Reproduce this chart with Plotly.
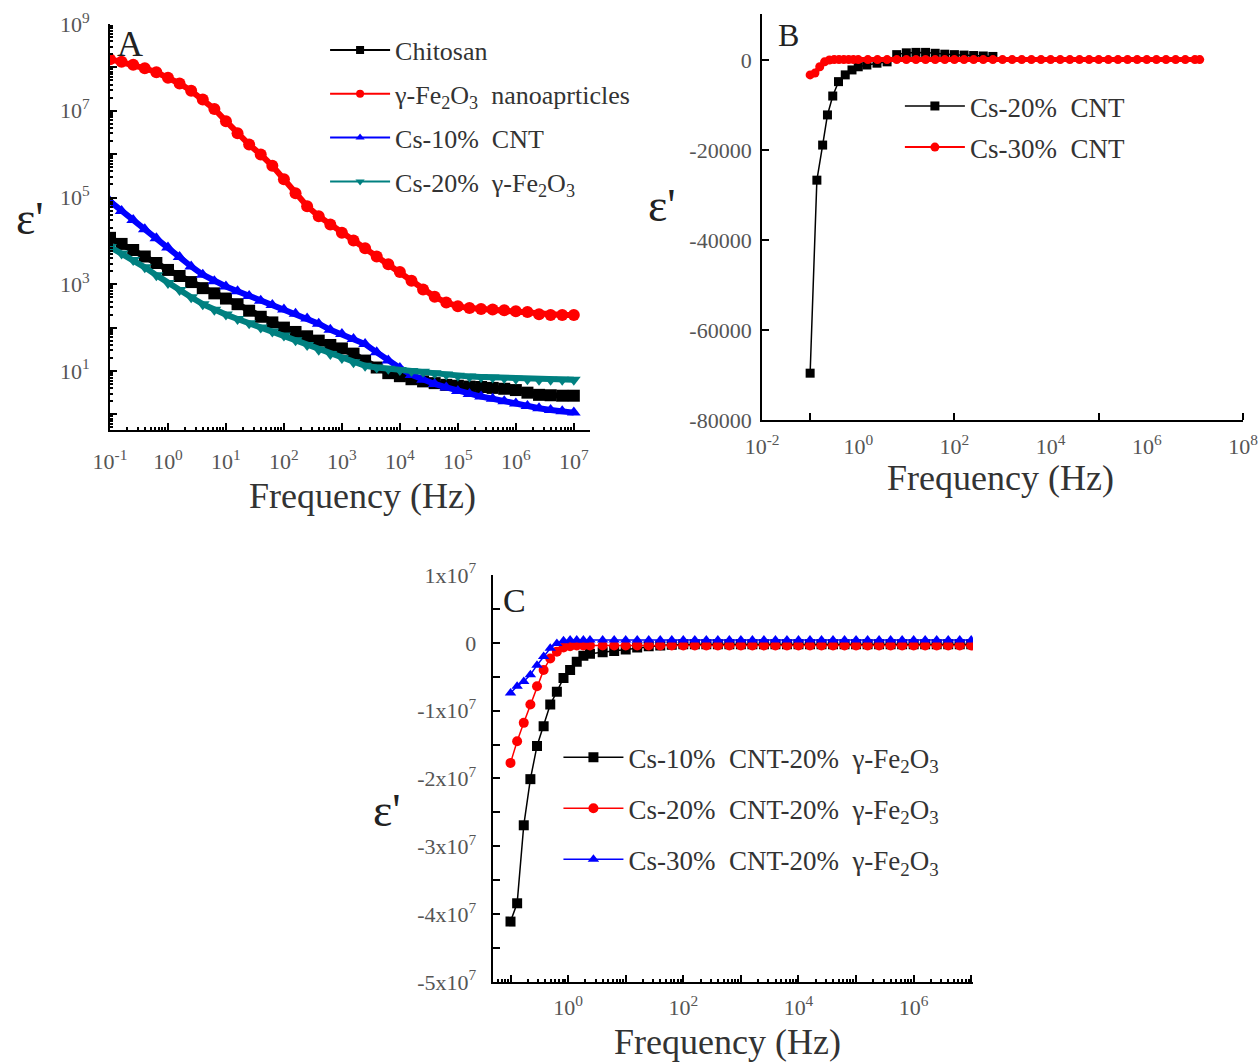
import plotly.graph_objects as go

FONT = "Liberation Serif"

# ---------------- Panel A (log-log) ----------------
LOGF_A = [-1.0, -0.8, -0.6, -0.4, -0.2, 0.0, 0.2, 0.4, 0.6, 0.8, 1.0, 1.2, 1.4, 1.6,
          1.8, 2.0, 2.2, 2.4, 2.6, 2.8, 3.0, 3.2, 3.4, 3.6, 3.8, 4.0, 4.2, 4.4, 4.6,
          4.8, 5.0, 5.2, 5.4, 5.6, 5.8, 6.0, 6.2, 6.4, 6.6, 6.8, 7.0]
# log10(eps')
A_CHITOSAN = [4.07, 3.93, 3.79, 3.64, 3.49, 3.33, 3.19, 3.05, 2.91, 2.79, 2.67, 2.54, 2.39,
              2.25, 2.12, 2.00, 1.90, 1.80, 1.70, 1.60, 1.52, 1.40, 1.24, 1.08, 0.95, 0.88,
              0.81, 0.76, 0.72, 0.68, 0.66, 0.64, 0.63, 0.61, 0.59, 0.56, 0.50, 0.45, 0.44,
              0.43, 0.43]
A_FE2O3 = [8.19, 8.13, 8.06, 7.98, 7.89, 7.76, 7.63, 7.46, 7.26, 7.04, 6.76, 6.48, 6.22,
           5.99, 5.73, 5.42, 5.10, 4.80, 4.57, 4.38, 4.19, 4.01, 3.83, 3.64, 3.46, 3.28,
           3.08, 2.88, 2.71, 2.58, 2.49, 2.45, 2.43, 2.42, 2.40, 2.38, 2.36, 2.31, 2.29,
           2.29, 2.29]
A_CS10CNT = [4.91, 4.69, 4.48, 4.27, 4.06, 3.85, 3.63, 3.41, 3.22, 3.07, 2.95, 2.84, 2.73,
             2.62, 2.52, 2.42, 2.32, 2.21, 2.09, 1.95, 1.85, 1.74, 1.62, 1.43, 1.24, 1.07,
             0.91, 0.80, 0.70, 0.62, 0.54, 0.47, 0.41, 0.36, 0.30, 0.25, 0.19, 0.14, 0.10,
             0.07, 0.04]
A_CS20FE = [3.86, 3.71, 3.56, 3.39, 3.21, 3.03, 2.87, 2.70, 2.54, 2.41, 2.30, 2.20, 2.10,
            2.00, 1.91, 1.82, 1.71, 1.60, 1.49, 1.39, 1.30, 1.20, 1.12, 1.08, 1.05, 1.02,
            1.00, 0.98, 0.95, 0.92, 0.89, 0.87, 0.86, 0.85, 0.84, 0.82, 0.81, 0.80, 0.80,
            0.80, 0.80]
A_NAMES = ["Chitosan", "γ-Fe<sub>2</sub>O<sub>3</sub>  nanoaprticles", "Cs-10%  CNT",
           "Cs-20%  γ-Fe<sub>2</sub>O<sub>3</sub>"]

# ---------------- Panel B ----------------
LOGF_B_20 = [-1.0, -0.86, -0.74, -0.64, -0.53, -0.41, -0.27, -0.13, 0.0, 0.18, 0.39, 0.6,
             0.8, 1.0, 1.2, 1.4, 1.6, 1.8, 2.0, 2.2, 2.4, 2.6, 2.8]
B_CS20CNT = [-69600, -26700, -18900, -12200, -8000, -4800, -3300, -2200, -1500, -1100,
             -700, -400, 1200, 1600, 1700, 1700, 1500, 1300, 1200, 1100, 1000, 900, 800]
LOGF_B_30 = [-1.0, -0.9, -0.8, -0.7, -0.6, -0.5, -0.4, -0.3, -0.2, -0.1, 0.0, 0.2, 0.4,
             0.6, 0.8, 1.0, 1.2, 1.4, 1.6, 1.8, 2.0, 2.2, 2.4, 2.6, 2.8, 3.0, 3.2, 3.4,
             3.6, 3.8, 4.0, 4.2, 4.4, 4.6, 4.8, 5.0, 5.2, 5.4, 5.6, 5.8, 6.0, 6.2, 6.4,
             6.6, 6.8, 7.0, 7.1]
B_CS30CNT = [-3300, -2900, -1500, -400, 0, 100, 100, 100, 100, 100, 100, 100, 100, 100,
             100, 100, 100, 100, 100, 100, 100, 100, 100, 100, 100, 100, 100, 100, 100,
             100, 100, 100, 100, 100, 100, 100, 100, 100, 100, 100, 100, 100, 100, 100,
             100, 100, 100]
B_NAMES = ["Cs-20%  CNT", "Cs-30%  CNT"]

# ---------------- Panel C ----------------
LOGF_C = [-1.0, -0.885, -0.77, -0.655, -0.54, -0.425, -0.31, -0.195, -0.08, 0.035, 0.15,
          0.265, 0.38, 0.6, 0.8, 1.0, 1.2, 1.4, 1.6, 1.8, 2.0, 2.2, 2.4, 2.6, 2.8, 3.0,
          3.2, 3.4, 3.6, 3.8, 4.0, 4.2, 4.4, 4.6, 4.8, 5.0, 5.2, 5.4, 5.6, 5.8, 6.0, 6.2,
          6.4, 6.6, 6.8, 7.0]
# eps' in units of 1e7
C_10CNT = [-4.11, -3.84, -2.69, -2.01, -1.52, -1.23, -0.91, -0.72, -0.52, -0.40, -0.28,
           -0.19, -0.16, -0.14, -0.12, -0.10, -0.07, -0.05, -0.04, -0.03, -0.02, -0.02,
           -0.02, -0.02, -0.02, -0.02, -0.02, -0.02, -0.02, -0.02, -0.02, -0.02, -0.02,
           -0.02, -0.02, -0.02, -0.02, -0.02, -0.02, -0.02, -0.02, -0.02, -0.02, -0.02,
           -0.02, -0.02]
C_20CNT = [-1.77, -1.45, -1.18, -0.91, -0.64, -0.40, -0.23, -0.13, -0.07, -0.05, -0.04,
           -0.04, -0.04, -0.04, -0.04, -0.04, -0.04, -0.04, -0.04, -0.04, -0.04, -0.04,
           -0.04, -0.04, -0.04, -0.04, -0.04, -0.04, -0.04, -0.04, -0.04, -0.04, -0.04,
           -0.04, -0.04, -0.04, -0.04, -0.04, -0.04, -0.04, -0.04, -0.04, -0.04, -0.04,
           -0.04, -0.04]
C_30CNT = [-0.74, -0.64, -0.57, -0.47, -0.33, -0.20, -0.08, -0.01, 0.03, 0.04, 0.04, 0.04,
           0.04, 0.04, 0.04, 0.04, 0.04, 0.04, 0.04, 0.04, 0.04, 0.04, 0.04, 0.04, 0.04,
           0.04, 0.04, 0.04, 0.04, 0.04, 0.04, 0.04, 0.04, 0.04, 0.04, 0.04, 0.04, 0.04,
           0.04, 0.04, 0.04, 0.04, 0.04, 0.04, 0.04, 0.04]
C_NAMES = ["Cs-10%  CNT-20%  γ-Fe<sub>2</sub>O<sub>3</sub>",
           "Cs-20%  CNT-20%  γ-Fe<sub>2</sub>O<sub>3</sub>",
           "Cs-30%  CNT-20%  γ-Fe<sub>2</sub>O<sub>3</sub>"]

BLACK, RED, BLUE, TEAL = "#000000", "#ff0000", "#0000ff", "#008080"


def hz(logs):
    return [10 ** v for v in logs]


fig = go.Figure()


def legend_entry(name, col, sym, xa, ya, leg, size=8):
    # legend-only entry with a thin line (data traces use thick bands)
    fig.add_trace(go.Scatter(
        x=[None], y=[None], name=name, mode="lines+markers",
        line=dict(color=col, width=2), marker=dict(symbol=sym, size=size, color=col),
        xaxis=xa, yaxis=ya, legend=leg, legendgroup=name, hoverinfo="skip"))


# Panel A traces
for name, vals, col, sym in [
    (A_NAMES[0], A_CHITOSAN, BLACK, "square"),
    (A_NAMES[1], A_FE2O3, RED, "circle"),
    (A_NAMES[2], A_CS10CNT, BLUE, "triangle-up"),
    (A_NAMES[3], A_CS20FE, TEAL, "triangle-down"),
]:
    fig.add_trace(go.Scatter(
        x=hz(LOGF_A), y=hz(vals), name=name, mode="lines+markers", showlegend=False,
        line=dict(color=col, width=6), marker=dict(symbol=sym, size=12, color=col),
        xaxis="x", yaxis="y", legendgroup=name))
    legend_entry(name, col, sym, "x", "y", "legend")

# Panel B traces
fig.add_trace(go.Scatter(
    x=hz(LOGF_B_20), y=B_CS20CNT, name=B_NAMES[0], mode="lines+markers",
    line=dict(color=BLACK, width=1.5), marker=dict(symbol="square", size=9, color=BLACK),
    xaxis="x2", yaxis="y2", legend="legend2", legendgroup="b1"))
fig.add_trace(go.Scatter(
    x=hz(LOGF_B_30), y=B_CS30CNT, name=B_NAMES[1], mode="lines+markers", showlegend=False,
    line=dict(color=RED, width=5), marker=dict(symbol="circle", size=9, color=RED),
    xaxis="x2", yaxis="y2", legendgroup=B_NAMES[1]))
legend_entry(B_NAMES[1], RED, "circle", "x2", "y2", "legend2", size=9)

# Panel C traces
for name, vals, col, sym, g in [
    (C_NAMES[0], C_10CNT, BLACK, "square", "c1"),
    (C_NAMES[1], C_20CNT, RED, "circle", "c2"),
    (C_NAMES[2], C_30CNT, BLUE, "triangle-up", "c3"),
]:
    fig.add_trace(go.Scatter(
        x=hz(LOGF_C), y=[v * 1e7 for v in vals], name=name, mode="lines+markers",
        line=dict(color=col, width=1.5), marker=dict(symbol=sym, size=10, color=col),
        xaxis="x3", yaxis="y3", legend="legend3", legendgroup=g))

TICKFONT = dict(family=FONT, size=22, color="#555555")
common = dict(showline=True, linecolor="black", linewidth=2, ticks="inside",
              tickcolor="black", tickwidth=1.5, ticklen=7, showgrid=False,
              zeroline=False, tickfont=TICKFONT, mirror=False, automargin=False)


def sup10(e):
    return f"10<sup>{e}</sup>"


layout = dict(
    width=1260, height=1064, paper_bgcolor="white", plot_bgcolor="white",
    margin=dict(l=0, r=0, t=0, b=0, pad=0, autoexpand=False), showlegend=True,
    xaxis=dict(common, type="log", range=[-1, 7.28], domain=[0.0873, 0.4683], anchor="y",
               tickmode="array", tickvals=hz(range(-1, 8)),
               ticktext=[sup10(e) for e in range(-1, 8)], ticklabelstandoff=11,
               minor=dict(ticks="inside", ticklen=3, dtick="D1", tickcolor="black")),
    yaxis=dict(common, type="log", range=[-0.36, 9], domain=[0.5959, 0.9774], anchor="x",
               tickmode="array", tickvals=hz(range(0, 10)),
               ticktext=[sup10(e) if e % 2 == 1 else "" for e in range(0, 10)],
               ticklabelstandoff=14,
               minor=dict(ticks="inside", ticklen=3, dtick="D1", tickcolor="black")),
    xaxis2=dict(common, type="log", range=[-2, 8], domain=[0.6048, 0.9865], anchor="y2",
                tickmode="array", tickvals=hz([-2, 0, 2, 4, 6, 8]),
                ticktext=[sup10(e) for e in [-2, 0, 2, 4, 6, 8]], ticks="",
                ticklabelstandoff=6,
                minor=dict(tickmode="array", tickvals=hz([-1, 2, 5, 8]), ticks="inside",
                           ticklen=7, tickcolor="black", tickwidth=1.5)),
    yaxis2=dict(common, range=[-80000, 10222], domain=[0.6053, 0.9868], anchor="x2",
                tickmode="array", tickvals=[0, -20000, -40000, -60000, -80000],
                ticktext=["0", "-20000", "-40000", "-60000", "-80000"],
                ticklabelstandoff=4),
    xaxis3=dict(common, type="log", range=[-1.31, 7.03], domain=[0.391, 0.7722],
                anchor="y3", tickmode="array", tickvals=hz(range(-1, 8)),
                ticktext=[sup10(e) if e % 2 == 0 else "" for e in range(-1, 8)],
                ticklabelstandoff=5,
                minor=dict(ticks="inside", ticklen=3, dtick="D1", tickcolor="black")),
    yaxis3=dict(common, range=[-5e7, 1e7], domain=[0.0771, 0.4596], anchor="x3",
                tickmode="array", tickvals=[1e7, 0, -1e7, -2e7, -3e7, -4e7, -5e7],
                ticktext=["1x10<sup>7</sup>", "0", "-1x10<sup>7</sup>", "-2x10<sup>7</sup>",
                          "-3x10<sup>7</sup>", "-4x10<sup>7</sup>", "-5x10<sup>7</sup>"],
                ticklabelstandoff=10,
                minor=dict(tickmode="array",
                           tickvals=[5e6, -5e6, -1.5e7, -2.5e7, -3.5e7, -4.5e7],
                           ticks="inside", ticklen=7, tickcolor="black", tickwidth=1.5)),
    legend=dict(x=0.258, y=0.975, xanchor="left", yanchor="top", bgcolor="rgba(0,0,0,0)",
                font=dict(family=FONT, size=26, color="#333333"), tracegroupgap=7,
                itemwidth=60),
    legend2=dict(x=0.7142, y=0.923, xanchor="left", yanchor="top", bgcolor="rgba(0,0,0,0)",
                 font=dict(family=FONT, size=27, color="#333333"), tracegroupgap=3,
                 itemwidth=60),
    legend3=dict(x=0.4432, y=0.311, xanchor="left", yanchor="top", bgcolor="rgba(0,0,0,0)",
                 font=dict(family=FONT, size=27, color="#333333"), tracegroupgap=13,
                 itemwidth=60),
)
fig.update_layout(**layout)

ann = []
for txt, x, y, size in [("A", 130, 44, 36), ("B", 788, 35, 32), ("C", 514, 600, 34)]:
    ann.append(dict(text=txt, x=x / 1260, y=1 - y / 1064, xref="paper", yref="paper",
                    xanchor="center", yanchor="middle",
                    showarrow=False, font=dict(family=FONT, size=size, color="#222222")))
for x, y in [(30, 218), (662, 205), (387, 810)]:
    ann.append(dict(text="ε'", x=x / 1260, y=1 - y / 1064, xref="paper", yref="paper",
                    xanchor="center", yanchor="middle",
                    showarrow=False, font=dict(family=FONT, size=46, color="#222222")))
for x, y in [(362, 496), (1000, 478), (728, 1042)]:
    ann.append(dict(text="Frequency (Hz)", x=x / 1260, y=1 - y / 1064, xref="paper",
                    yref="paper", showarrow=False, xanchor="center", yanchor="middle",
                    font=dict(family=FONT, size=36, color="#333333")))
fig.update_layout(annotations=ann)

fig.write_html("out.html")
